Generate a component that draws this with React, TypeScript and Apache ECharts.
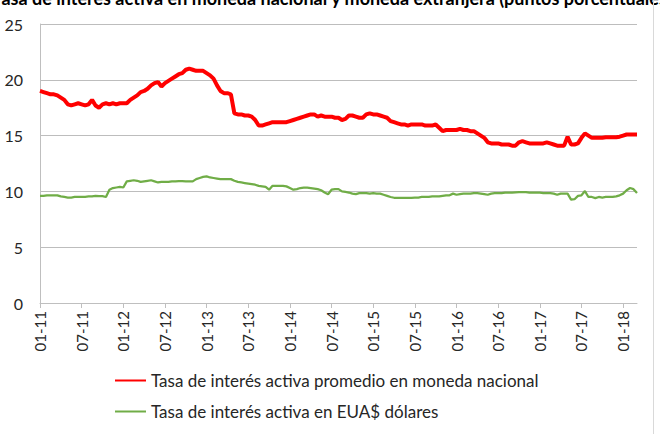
import React, { useEffect, useRef } from "react";
import * as echarts from "echarts";

// Half-monthly readings, Jan 2011 .. Mar 2018 (two points per month)
const startYear = 2011;
const titleText =
  "Tasa de interés activa en moneda nacional y moneda extranjera (puntos porcentuales)";
const seriesNames = [
  "Tasa de interés activa promedio en moneda nacional",
  "Tasa de interés activa en EUA$ dólares",
];

const nacional = [
  19.0, 18.9, 18.8, 18.7, 18.7, 18.6, 18.4, 18.2, 17.8, 17.7, 17.8, 17.9,
  17.8, 17.7, 17.8, 18.2, 17.7, 17.5, 17.8, 17.9, 17.8, 17.9, 17.8, 17.9,
  17.9, 17.9, 18.2, 18.4, 18.6, 18.9, 19.0, 19.2, 19.5, 19.7, 19.8, 19.4,
  19.7, 19.9, 20.1, 20.3, 20.5, 20.6, 20.9, 21.0, 20.9, 20.8, 20.8, 20.8,
  20.6, 20.4, 20.1, 19.5, 19.0, 18.8, 18.8, 18.7, 17.0, 16.9, 16.9, 16.8,
  16.8, 16.7, 16.4, 15.9, 15.9, 16.0, 16.1, 16.2, 16.2, 16.2, 16.2, 16.2,
  16.3, 16.4, 16.5, 16.6, 16.7, 16.8, 16.9, 16.9, 16.7, 16.8, 16.7, 16.7,
  16.7, 16.6, 16.6, 16.4, 16.5, 16.8, 16.8, 16.7, 16.6, 16.6, 16.9, 17.0,
  16.9, 16.9, 16.8, 16.7, 16.6, 16.3, 16.2, 16.1, 16.0, 16.0, 15.9, 16.0,
  16.0, 16.0, 16.0, 15.9, 15.9, 15.9, 16.0, 15.7, 15.4, 15.5, 15.5, 15.5,
  15.5, 15.6, 15.5, 15.5, 15.4, 15.4, 15.2, 15.0, 14.8, 14.4, 14.3, 14.3,
  14.3, 14.2, 14.2, 14.2, 14.1, 14.1, 14.4, 14.5, 14.4, 14.3, 14.3, 14.3,
  14.3, 14.3, 14.4, 14.3, 14.2, 14.1, 14.1, 14.1, 14.9, 14.2, 14.2, 14.3,
  14.8, 15.2, 15.0, 14.8, 14.8, 14.8, 14.8, 14.85, 14.85, 14.85, 14.85, 14.9,
  15.0, 15.1, 15.1, 15.1, 15.1,
];

const dolares = [
  9.6, 9.6, 9.65, 9.65, 9.65, 9.65, 9.55, 9.5, 9.45, 9.45, 9.5, 9.5,
  9.52, 9.52, 9.55, 9.55, 9.6, 9.58, 9.58, 9.5, 10.15, 10.3, 10.35, 10.4,
  10.35, 10.9, 10.95, 11.0, 10.95, 10.85, 10.9, 10.95, 11.0, 10.9, 10.8, 10.85,
  10.85, 10.85, 10.9, 10.9, 10.92, 10.92, 10.9, 10.9, 10.9, 11.1, 11.2, 11.3,
  11.35, 11.25, 11.2, 11.15, 11.1, 11.1, 11.1, 11.1, 10.95, 10.85, 10.8, 10.75,
  10.7, 10.65, 10.6, 10.5, 10.45, 10.4, 10.15, 10.5, 10.5, 10.5, 10.5, 10.45,
  10.3, 10.15, 10.2, 10.3, 10.33, 10.33, 10.3, 10.25, 10.2, 10.1, 9.9, 9.75,
  10.15, 10.2, 10.2, 10.0, 9.95, 9.9, 9.8, 9.75, 9.85, 9.85, 9.85, 9.8,
  9.85, 9.8, 9.8, 9.7, 9.6, 9.5, 9.43, 9.43, 9.43, 9.43, 9.43, 9.43,
  9.45, 9.45, 9.5, 9.5, 9.5, 9.55, 9.55, 9.55, 9.6, 9.65, 9.65, 9.8,
  9.7, 9.75, 9.8, 9.8, 9.8, 9.85, 9.85, 9.8, 9.75, 9.7, 9.8, 9.85,
  9.85, 9.85, 9.9, 9.9, 9.9, 9.92, 9.94, 9.94, 9.94, 9.9, 9.9, 9.88,
  9.88, 9.85, 9.85, 9.85, 9.8, 9.7, 9.8, 9.8, 9.8, 9.26, 9.3, 9.6,
  9.65, 10.03, 9.5, 9.5, 9.4, 9.5, 9.45, 9.5, 9.5, 9.5, 9.55, 9.65,
  9.8, 10.1, 10.3, 10.2, 9.85,
];

const yMin = 0;
const yMax = 25;
const yInterval = 5;
const labelEvery = 12; // every six months

const categories = nacional.map((_, i) => {
  const monthIdx = Math.floor(i / 2);
  const y = startYear + Math.floor(monthIdx / 12);
  const mo = (monthIdx % 12) + 1;
  const d = i % 2 === 0 ? 1 : 16;
  return `${y}-${String(mo).padStart(2, "0")}-${String(d).padStart(2, "0")}`;
});

const FONT = "Lato";

export default function App() {
  const ref = useRef<HTMLDivElement>(null);
  useEffect(() => {
    if (!ref.current) return;
    const chart = echarts.init(ref.current, undefined, { renderer: "svg" });
    chart.setOption({
      animation: false,
      backgroundColor: "#ffffff",
      textStyle: { fontFamily: FONT },
      grid: { left: 40, right: 23, top: 24, bottom: 131, containLabel: false },
      graphic: [
        {
          type: "text",
          x: 332,
          y: -2,
          style: {
            text: titleText,
            font: `bold 18px ${FONT}`,
            fill: "#000000",
            align: "center",
            verticalAlign: "middle",
          },
        },
        {
          type: "line",
          shape: { x1: 653.5, y1: 0, x2: 653.5, y2: 434 },
          style: { stroke: "#D9D9D9", lineWidth: 1 },
        },
      ],
      legend: {
        orient: "vertical",
        left: 114,
        top: 372,
        padding: 0,
        itemWidth: 31,
        itemHeight: 10,
        itemGap: 14,
        itemStyle: { opacity: 0 },
        textStyle: { fontSize: 17, fontFamily: FONT, color: "#262626" },
        data: seriesNames,
      },
      xAxis: {
        type: "category",
        data: categories,
        boundaryGap: false,
        axisLine: { lineStyle: { color: "#BFBFBF" } },
        axisTick: {
          show: true,
          length: 5,
          interval: (idx: number) => idx % labelEvery === 0,
          lineStyle: { color: "#BFBFBF" },
        },
        axisLabel: {
          interval: (idx: number) => idx % labelEvery === 0,
          rotate: 90,
          margin: 8,
          fontSize: 15,
          fontFamily: FONT,
          color: "#262626",
          formatter: (v: string) => `${v.slice(5, 7)}-${v.slice(2, 4)}`,
        },
        splitLine: { show: false },
      },
      yAxis: {
        type: "value",
        min: yMin,
        max: yMax,
        interval: yInterval,
        axisLine: { show: true, lineStyle: { color: "#BFBFBF" } },
        axisTick: { show: false },
        axisLabel: { margin: 17, fontSize: 16, fontFamily: FONT, color: "#262626" },
        splitLine: { lineStyle: { color: "#BDBDBD" } },
      },
      series: [
        {
          name: seriesNames[0],
          type: "line",
          data: nacional,
          symbol: "none",
          lineStyle: { color: "#FF0000", width: 4 },
          itemStyle: { color: "#FF0000" },
        },
        {
          name: seriesNames[1],
          type: "line",
          data: dolares,
          symbol: "none",
          lineStyle: { color: "#70AD47", width: 2.25 },
          itemStyle: { color: "#70AD47" },
        },
      ],
    });
    return () => chart.dispose();
  }, []);
  return (
    <div
      ref={ref}
      style={{ position: "fixed", left: 0, top: 0, width: 660, height: 434 }}
    />
  );
}
